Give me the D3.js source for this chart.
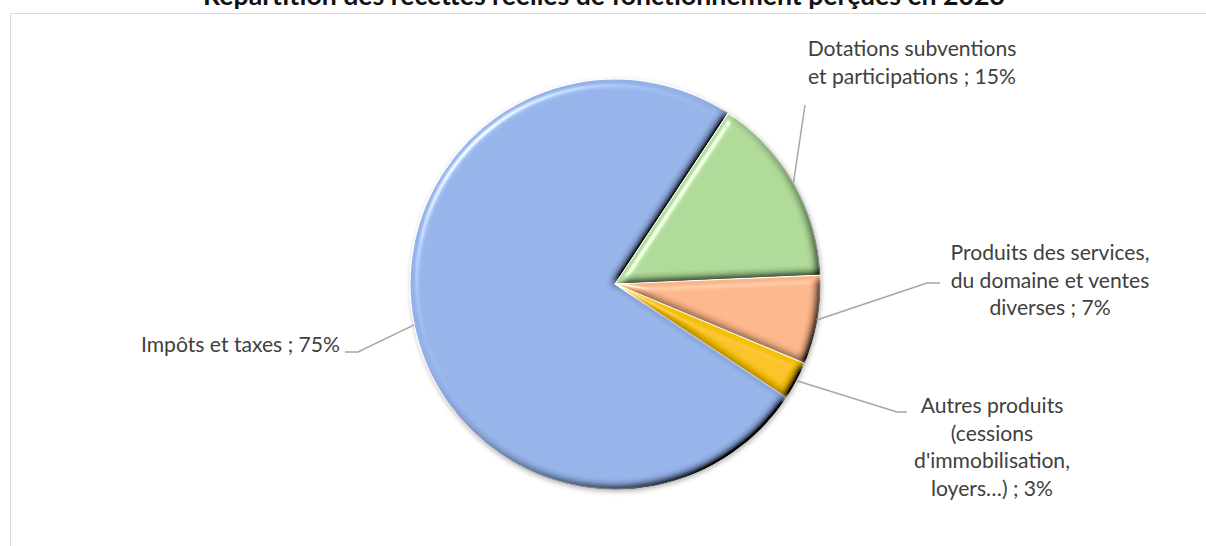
<!DOCTYPE html>
<html><head><meta charset="utf-8">
<script src="https://cdn.jsdelivr.net/npm/d3@7/dist/d3.min.js"></script>
<style>html,body{margin:0;padding:0;background:#fff;overflow:hidden}svg{display:block}</style>
</head><body>
<svg id="chart" width="1206" height="546"></svg>
<script>
const title = "Répartition des recettes réelles de fonctionnement perçues en 2023";
const categories = ["Impôts et taxes", "Dotations subventions et participations", "Produits des services, du domaine et ventes diverses", "Autres produits (cessions d'immobilisation, loyers…)"];
const values = [75, 15, 7, 3];
const labelLines = [
  ["Impôts et taxes ; 75%"],
  ["Dotations subventions", "et participations ; 15%"],
  ["Produits des services,", "du domaine et ventes", "diverses ; 7%"],
  ["Autres produits", "(cessions", "d'immobilisation,", "loyers…) ; 3%"]
];
const colors = ["#93b1e8", "#acd896", "#fab487", "#f7c000"];

const W = 1206, H = 546;
const svg = d3.select("#chart");
const cx = 615, cy = 284, R = 205;
const fontFam = "Lato, 'Open Sans', sans-serif";

svg.append("path").attr("d", `M10.5,${H}V13.5H${W}`).attr("fill", "none").attr("stroke", "#d9d9d9").attr("stroke-width", 1);

function fitSize(str, target, weight) {
  const t = svg.append("text").attr("font-family", fontFam).attr("font-weight", weight).attr("font-size", 100).text(str);
  const w = t.node().getComputedTextLength();
  t.remove();
  return 100 * target / w;
}
const titleSize = fitSize(title, 802, "bold");
const labelSize = fitSize(labelLines[2][0], 199, "normal");

svg.append("text").attr("x", 604).attr("y", 5).attr("text-anchor", "middle")
  .attr("font-family", fontFam).attr("font-weight", "bold").attr("font-size", titleSize)
  .attr("fill", "#111").text(title);

const defs = svg.append("defs");
const bev = defs.append("filter").attr("id", "bevel").attr("x", "-5%").attr("y", "-5%").attr("width", "110%").attr("height", "110%");
bev.append("feGaussianBlur").attr("in", "SourceAlpha").attr("stdDeviation", 4).attr("result", "blur");
const dif = bev.append("feDiffuseLighting").attr("in", "blur").attr("surfaceScale", 6).attr("diffuseConstant", 1.414).attr("lighting-color", "#fff").attr("result", "dif");
dif.append("feDistantLight").attr("azimuth", 225).attr("elevation", 45);
bev.append("feComposite").attr("in", "SourceGraphic").attr("in2", "dif").attr("operator", "arithmetic").attr("k1", 1).attr("k2", 0).attr("k3", 0).attr("k4", 0).attr("result", "shaded");
const spec = bev.append("feSpecularLighting").attr("in", "blur").attr("surfaceScale", 6).attr("specularConstant", 0.6).attr("specularExponent", 40).attr("lighting-color", "#fff").attr("result", "spec");
spec.append("feDistantLight").attr("azimuth", 225).attr("elevation", 45);
bev.append("feComposite").attr("in", "spec").attr("in2", "SourceAlpha").attr("operator", "in").attr("result", "specIn");
bev.append("feComposite").attr("in", "shaded").attr("in2", "specIn").attr("operator", "arithmetic").attr("k1", 0).attr("k2", 1).attr("k3", 1).attr("k4", 0).attr("result", "lit");
bev.append("feComposite").attr("in", "lit").attr("in2", "SourceAlpha").attr("operator", "in");

const sh = defs.append("filter").attr("id", "shadow").attr("x", "-10%").attr("y", "-10%").attr("width", "120%").attr("height", "120%");
sh.append("feDropShadow").attr("dx", 1).attr("dy", 2).attr("stdDeviation", 2.5).attr("flood-color", "#000").attr("flood-opacity", 0.3);

const startA = (33.5 - 270) * Math.PI / 180;
const pie = d3.pie().sort(null).value(d => d).startAngle(startA).endAngle(startA + 2 * Math.PI);
const arcs = pie(values);
const arc = d3.arc().innerRadius(0).outerRadius(R);

const g = svg.append("g").attr("transform", `translate(${cx},${cy})`).attr("filter", "url(#shadow)");
g.selectAll("path").data(arcs).join("path")
  .attr("d", arc).attr("fill", (d, i) => colors[i])
  .attr("stroke", "#fff").attr("stroke-width", 1.2).attr("stroke-linejoin", "round")
  .attr("filter", "url(#bevel)");

const labelLayout = [
  { x: 340, y: 352, anchor: "end", pts: [[358, 352], [345, 352]] },
  { x: 912, y: 56, anchor: "middle", pts: [[805, 105]] },
  { x: 1050, y: 260, anchor: "middle", pts: [[927, 283], [940, 283]] },
  { x: 992, y: 413, anchor: "middle", pts: [[897, 412], [907, 412]] }
];
const lineH = 27.5;

arcs.forEach((a, i) => {
  const mid = (a.startAngle + a.endAngle) / 2;
  const p0 = [cx + R * Math.sin(mid), cy - R * Math.cos(mid)];
  const L = labelLayout[i];
  svg.append("path").attr("d", d3.line()([p0, ...L.pts]))
    .attr("fill", "none").attr("stroke", "#a6a6a6").attr("stroke-width", 1.5);
  const t = svg.append("text").attr("font-family", fontFam).attr("font-size", labelSize)
    .attr("fill", "#404040").attr("text-anchor", L.anchor);
  labelLines[i].forEach((ln, j) => {
    t.append("tspan").attr("x", L.x).attr("y", L.y + j * lineH).text(ln);
  });
});
</script>
</body></html>
